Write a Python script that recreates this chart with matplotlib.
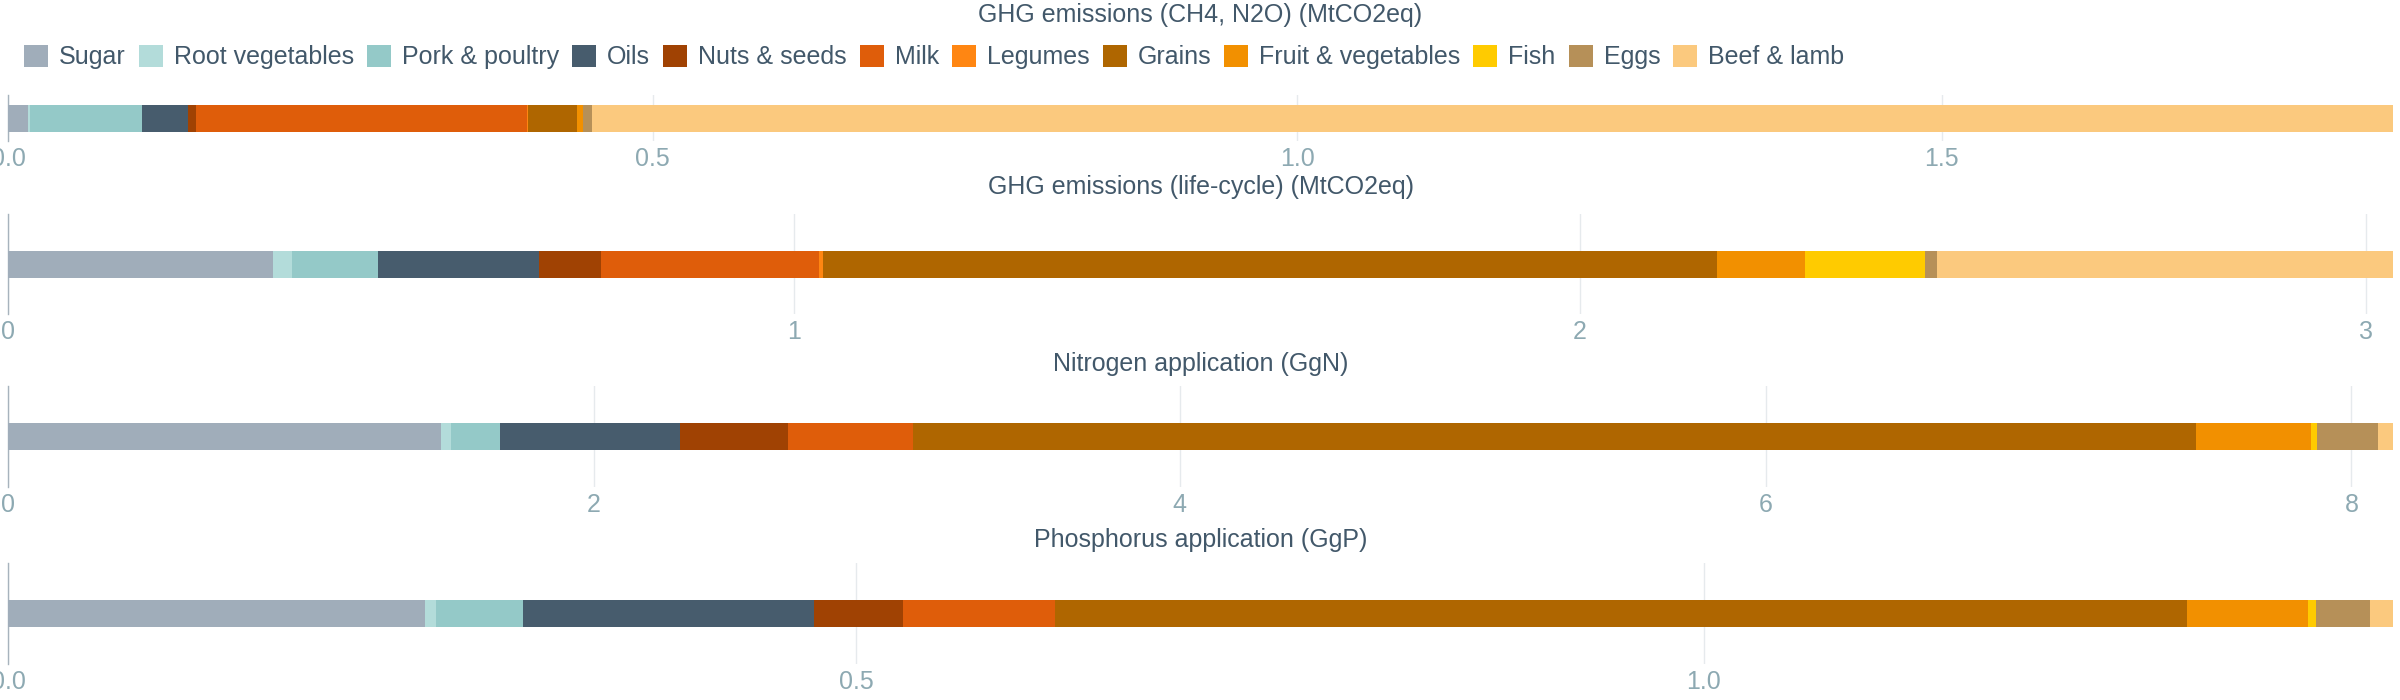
import matplotlib.pyplot as plt
from matplotlib.ticker import MultipleLocator, FormatStrFormatter

plt.rcParams["font.family"] = ["Liberation Sans", "DejaVu Sans"]

# ==============================================
# DATA

categories = [
    "Sugar", "Root vegetables", "Pork & poultry", "Oils", "Nuts & seeds", "Milk",
    "Legumes", "Grains", "Fruit & vegetables", "Fish", "Eggs", "Beef & lamb"
]

ghg_direct = [0.0157, 0.0014, 0.0865, 0.0364, 0.0055, 0.257, 0.001, 0.0377, 0.0045, 0.0, 0.0073, 1.397]
ghg_lifecycle = [0.337, 0.024, 0.110, 0.204, 0.079, 0.278, 0.005, 1.137, 0.112, 0.153, 0.015, 0.580]
nitrogen = [1.477, 0.034, 0.167, 0.616, 0.368, 0.426, 0.0, 4.381, 0.392, 0.021, 0.209, 0.051]
phosphorus = [0.2457, 0.0068, 0.051, 0.1718, 0.0523, 0.0897, 0.0, 0.6679, 0.0708, 0.005, 0.0316, 0.0138]

titles = [
    "GHG emissions (CH4, N2O) (MtCO2eq)",
    "GHG emissions (life-cycle) (MtCO2eq)",
    "Nitrogen application (GgN)",
    "Phosphorus application (GgP)",
]

colors = [
    "#A0ADBA", "#B3DCDA", "#94C9C8", "#475C6D", "#A04203", "#DF5D0A",
    "#FF8612", "#AF6600", "#F29000", "#FFCB00", "#B69058", "#FBC97E"
]

# ==============================================
# PLOT

text_color = "#42586A"
tick_color = "#8DA9B2"
font_size = 18

fig = plt.figure(figsize=(24, 7), dpi=100)

# panel boxes in pixels (top, bottom) on the 700 px tall figure
W, H = 2400, 700
left_px, right_px = 8, 2393
boxes = [(95, 141), (214, 314), (386, 487), (563, 664)]
title_y = [15, 187, 364, 540]
steps = [0.5, 1, 2, 0.5]
fmts = ["%.1f", "%d", "%d", "%.1f"]
bar_px = 27

all_values = [ghg_direct, ghg_lifecycle, nitrogen, phosphorus]

first_bars = []
for i, values in enumerate(all_values):
    top, bottom = boxes[i]
    ax = fig.add_axes([left_px / W, 1 - bottom / H, (right_px - left_px) / W, (bottom - top) / H])

    bar_h = bar_px / (bottom - top)
    start = 0
    for cat, val, col in zip(categories, values, colors):
        b = ax.barh(0, val, left=start, height=bar_h, color=col, label=cat, zorder=3, linewidth=0)
        if i == 0:
            first_bars.append(b)
        start += val

    ax.set_xlim(0, sum(values))
    ax.set_ylim(-0.5, 0.5)
    ax.set_yticks([])
    ax.xaxis.set_major_locator(MultipleLocator(steps[i]))
    ax.xaxis.set_major_formatter(FormatStrFormatter(fmts[i]))
    ax.tick_params(axis="x", length=0, pad=4, labelsize=font_size, labelcolor=tick_color)
    ax.grid(axis="x", color="#E6EAED", linewidth=1, zorder=0)

    for side in ["top", "right", "bottom"]:
        ax.spines[side].set_visible(False)
    ax.spines["left"].set_color("#A7B3BD")
    ax.spines["left"].set_linewidth(1)

    fig.text((left_px + right_px) / 2 / W, 1 - title_y[i] / H, titles[i],
             ha="center", va="center", fontsize=font_size, color=text_color)

leg = fig.legend(handles=first_bars, labels=categories, loc="center left",
                 bbox_to_anchor=(24 / W, 1 - 57 / H), ncol=12, frameon=False,
                 fontsize=font_size, handlelength=0.96, handleheight=0.96,
                 handletextpad=0.44, columnspacing=0.52, borderpad=0, borderaxespad=0)
for t in leg.get_texts():
    t.set_color(text_color)

plt.savefig("out.png", dpi=100)
